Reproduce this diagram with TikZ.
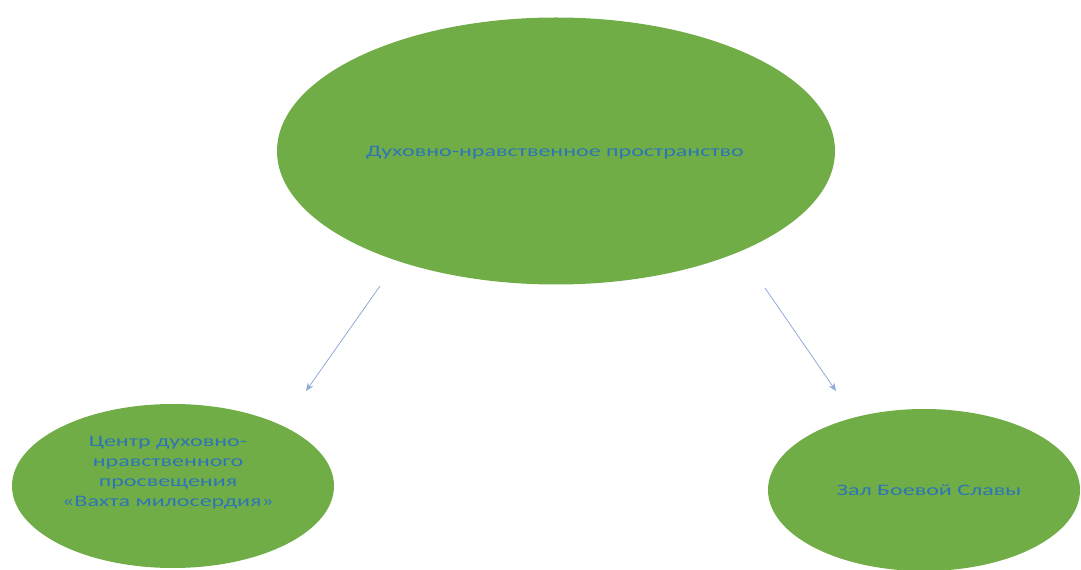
\documentclass[tikz,border=0pt]{standalone}
\usepackage{fontspec}
\setmainfont{Carlito}
\newfontfamily\widefont[FakeStretch=1.5]{Carlito}
\usetikzlibrary{shapes.geometric,arrows.meta}
\definecolor{ovalgreen}{RGB}{112,173,71}
\definecolor{labelblue}{RGB}{46,117,182}
\definecolor{arrowblue}{RGB}{143,170,215}
\tikzset{
  oval/.style={ellipse, fill=ovalgreen, text=labelblue, inner sep=0pt, align=center,
    font=\widefont\fontsize{12}{15}\selectfont},
  link/.style={arrowblue, line width=0.6pt, -{Stealth[length=6pt,width=5pt]}}
}
\begin{document}
\begin{tikzpicture}[x=0.75pt,y=-0.75pt]
    \useasboundingbox (0,0) rectangle (1081,570);
    \node [oval, minimum width=558*0.75pt, minimum height=267*0.75pt] (space) at (556,151) {};
    \node [oval, minimum width=322*0.75pt, minimum height=164*0.75pt] (centre) at (173,486) {};
    \node [oval, minimum width=312*0.75pt, minimum height=162*0.75pt] (hall) at (924,490) {};
    \node [text=labelblue, font=\widefont\fontsize{12}{15}\selectfont] (spacetext) at (555,153) {Духовно-нравственное пространство};
    \node [text=labelblue, align=center, font=\widefont\fontsize{12}{15}\selectfont] (centretext) at (168,473) {Центр духовно-\\нравственного\\просвещения\\«Вахта милосердия»};
    \node [text=labelblue, font=\widefont\fontsize{12}{15}\selectfont] (halltext) at (929,490) {Зал Боевой Славы};
    \coordinate (lfrom) at (380,286);
    \coordinate (lto) at (306,391);
    \coordinate (rfrom) at (765,288);
    \coordinate (rto) at (836,391);
    \draw [link] (lfrom) -- (lto);
    \draw [link] (rfrom) -- (rto);
  \end{tikzpicture}
\end{document}
